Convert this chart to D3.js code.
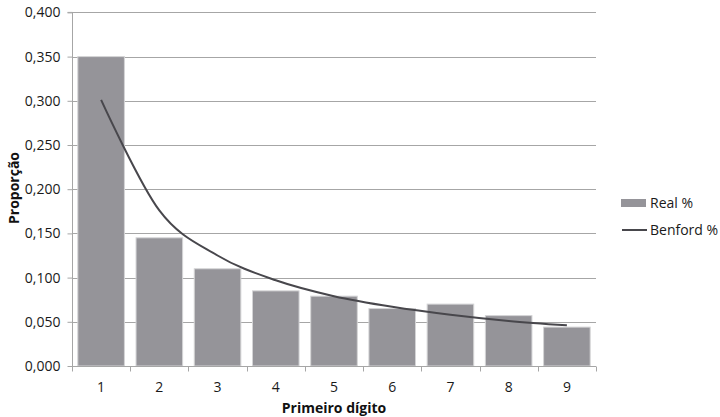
<!DOCTYPE html>
<html>
<head>
<meta charset="utf-8">
<script src="https://cdn.jsdelivr.net/npm/d3@7"></script>
<style>
  html, body { margin: 0; padding: 0; background: #fff; }
  svg { display: block; font-family: "Open Sans", "DejaVu Sans", sans-serif; }
</style>
</head>
<body>
<svg id="chart" width="720" height="417"></svg>
<script>
// First-digit distribution: observed proportions vs. Benford's law
const digits = ["1", "2", "3", "4", "5", "6", "7", "8", "9"];
const realPct = [0.350, 0.145, 0.110, 0.085, 0.079, 0.065, 0.070, 0.057, 0.044];
const benfordPct = [0.301, 0.176, 0.125, 0.097, 0.079, 0.067, 0.058, 0.051, 0.046];
const yTicks = [0, 0.05, 0.1, 0.15, 0.2, 0.25, 0.3, 0.35, 0.4];
const seriesNames = ["Real %", "Benford %"];

const svg = d3.select("#chart");
const plotLeft = 72, plotRight = 596, plotTop = 12.4, plotBottom = 366;
const fontSize = "14px";
const textColor = "#1a1a1a";

const x = d3.scaleBand().domain(digits).range([plotLeft, plotRight]).paddingInner(0.2).paddingOuter(0.1);
const y = d3.scaleLinear().domain([0, 0.4]).range([plotBottom, plotTop]);
const fmt = v => d3.format(".3f")(v).replace(".", ",");

// horizontal gridlines
svg.append("g").selectAll("line").data(yTicks.filter(t => t > 0)).join("line")
  .attr("x1", plotLeft).attr("x2", plotRight)
  .attr("y1", d => Math.round(y(d)) + 0.5).attr("y2", d => Math.round(y(d)) + 0.5)
  .attr("stroke", "#a6a6a6").attr("stroke-width", 1);

// bars
svg.append("g").selectAll("rect").data(realPct).join("rect")
  .attr("x", (d, i) => x(digits[i]))
  .attr("y", d => y(d))
  .attr("width", x.bandwidth())
  .attr("height", d => plotBottom - y(d))
  .attr("fill", "#959499")
  .attr("stroke", "#d4d4d6").attr("stroke-width", 1);

// y axis
const yAxis = svg.append("g").attr("transform", `translate(${plotLeft + 0.5},0)`)
  .call(d3.axisLeft(y).tickValues(yTicks).tickFormat(fmt).tickSize(5).tickPadding(7));
yAxis.select(".domain").attr("stroke", "#a6a6a6").attr("d", `M-5,${y(0.4)}H0V${plotBottom}`);
yAxis.selectAll(".tick line").attr("stroke", "#a6a6a6");
yAxis.selectAll(".tick text").attr("fill", textColor).style("font-size", fontSize)
  .style("font-family", "'Open Sans', sans-serif");

// x axis with ticks at category boundaries
const xAxisG = svg.append("g").attr("transform", `translate(0,${plotBottom + 0.5})`);
xAxisG.append("line").attr("x1", plotLeft).attr("x2", plotRight).attr("stroke", "#a6a6a6");
const step = x.step();
const bounds = d3.range(digits.length + 1).map(i => x(digits[0]) - step * x.paddingOuter() + i * step);
xAxisG.selectAll("line.tk").data(bounds).join("line").attr("class", "tk")
  .attr("x1", d => Math.round(d) + 0.5).attr("x2", d => Math.round(d) + 0.5)
  .attr("y1", 0).attr("y2", 5).attr("stroke", "#a6a6a6");
xAxisG.selectAll("text").data(digits).join("text")
  .attr("x", d => x(d) + x.bandwidth() / 2).attr("y", 20.5)
  .attr("dy", "0.35em").attr("text-anchor", "middle")
  .attr("fill", textColor).style("font-size", fontSize).text(d => d);

// Benford smoothed line
const line = d3.line()
  .x((d, i) => x(digits[i]) + x.bandwidth() / 2)
  .y(d => y(d))
  .curve(d3.curveCatmullRom.alpha(0));
svg.append("path").datum(benfordPct)
  .attr("d", line).attr("fill", "none")
  .attr("stroke", "#48474c").attr("stroke-width", 2);

// axis titles
svg.append("text").attr("transform", "translate(14,188) rotate(-90)")
  .attr("text-anchor", "middle").attr("dy", "0.35em")
  .style("font-size", fontSize).style("font-weight", "bold").attr("fill", "#111")
  .text("Proporção");
svg.append("text").attr("x", (plotLeft + plotRight) / 2).attr("y", 408).attr("dy", "0.35em")
  .attr("text-anchor", "middle")
  .style("font-size", fontSize).style("font-weight", "bold").attr("fill", "#111")
  .text("Primeiro dígito");

// legend
const lg = svg.append("g");
lg.append("rect").attr("x", 621).attr("y", 199).attr("width", 25).attr("height", 8).attr("fill", "#959499");
lg.append("text").attr("x", 650).attr("y", 203).attr("dy", "0.35em")
  .style("font-size", fontSize).attr("fill", textColor).text(seriesNames[0]);
lg.append("line").attr("x1", 622).attr("x2", 647).attr("y1", 230).attr("y2", 230)
  .attr("stroke", "#48474c").attr("stroke-width", 2);
lg.append("text").attr("x", 650).attr("y", 230).attr("dy", "0.35em")
  .style("font-size", fontSize).attr("fill", textColor).text(seriesNames[1]);
</script>
</body>
</html>
